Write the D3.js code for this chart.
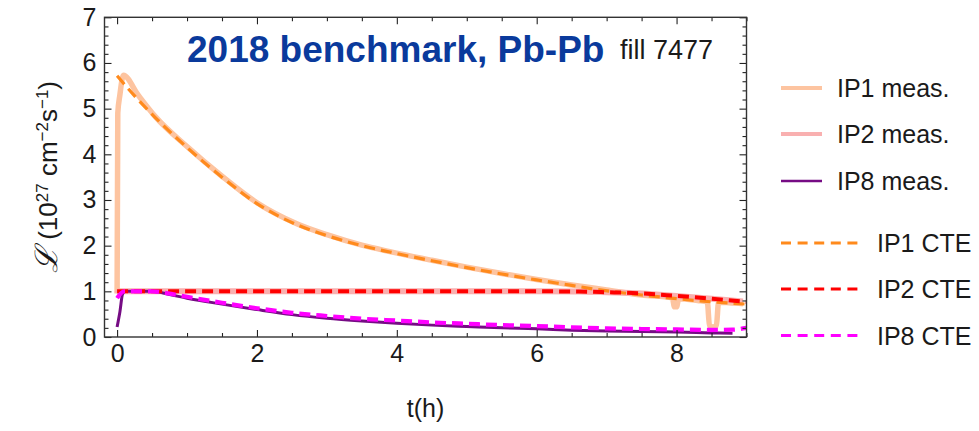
<!DOCTYPE html>
<html>
<head>
<meta charset="utf-8">
<script src="https://cdn.jsdelivr.net/npm/d3@7"></script>
<style>
  html, body { margin: 0; padding: 0; background: #fff; }
  svg { display: block; font-family: "Liberation Sans", Arial, Helvetica, sans-serif; }
</style>
</head>
<body>
<svg id="chart" width="979" height="431"></svg>
<script>
// ---------------- data ----------------
const xTickLabels = [0, 2, 4, 6, 8];
const yTickLabels = [0, 1, 2, 3, 4, 5, 6, 7];

// IP1 CTE (orange dashed)
const ip1CteT = [0, 0.25, 0.55, 1, 1.5, 2, 2.57, 3, 3.5, 3.9, 4.5, 5, 5.5, 6, 6.5, 6.86, 7.5, 8, 8.5, 9];
const ip1CteL = [5.72, 5.28, 4.80, 4.15, 3.50, 2.92, 2.46, 2.22, 2.00, 1.86, 1.67, 1.52, 1.38, 1.25, 1.13, 1.04, 0.92, 0.84, 0.77, 0.72];

// IP2 CTE (red dashed)
const ip2CteT = [0, 1, 2, 3, 4, 5, 6, 6.6, 7, 7.5, 8, 8.5, 9];
const ip2CteL = [1.0, 1.0, 1.0, 1.0, 1.0, 1.0, 1.0, 0.995, 0.98, 0.955, 0.9, 0.84, 0.77];

// IP8 CTE (magenta dashed)
const ip8CteT = [0, 0.1, 0.5, 0.75, 1, 1.5, 2, 2.5, 3, 3.5, 4, 4.5, 5, 5.5, 6, 6.5, 7, 7.5, 8, 8.5, 8.8, 9];
const ip8CteL = [0.85, 1.0, 1.0, 0.95, 0.88, 0.75, 0.63, 0.53, 0.46, 0.40, 0.36, 0.32, 0.29, 0.26, 0.24, 0.21, 0.19, 0.175, 0.165, 0.155, 0.16, 0.2];

// IP1 measured (light orange)
const ip1MeasT = [0, 0.01, 0.04, 0.09, 0.3, 0.55, 1, 1.5, 2, 2.57, 3, 3.5, 3.9, 4.5, 5, 5.5, 6, 6.5, 7, 7.5, 7.94, 7.97, 8.0, 8.03, 8.3, 8.44, 8.47, 8.52, 8.57, 8.6, 8.75, 8.95];
const ip1MeasL = [0.95, 4.9, 5.3, 5.73, 5.30, 4.82, 4.17, 3.52, 2.94, 2.48, 2.24, 2.01, 1.87, 1.68, 1.53, 1.39, 1.26, 1.14, 1.03, 0.92, 0.86, 0.66, 0.66, 0.84, 0.80, 0.77, 0.25, 0.22, 0.25, 0.76, 0.75, 0.73];

// IP2 measured (light pink)
const ip2MeasT = [0, 0.03, 1, 2, 3, 4, 5, 6, 6.6, 7, 7.5, 8, 8.5, 8.95];
const ip2MeasL = [0.95, 1.0, 1.0, 1.0, 1.0, 1.0, 1.0, 1.0, 0.995, 0.98, 0.955, 0.9, 0.84, 0.78];

// IP8 measured (purple)
const ip8MeasT = [0, 0.04, 0.08, 0.12, 0.5, 0.75, 1, 1.5, 2, 2.5, 3, 3.5, 4, 4.5, 5, 5.5, 6, 6.5, 7, 7.5, 8, 8.5, 8.8];
const ip8MeasL = [0.22, 0.55, 0.95, 1.0, 1.0, 0.93, 0.85, 0.72, 0.60, 0.49, 0.41, 0.35, 0.30, 0.26, 0.23, 0.20, 0.18, 0.15, 0.13, 0.12, 0.11, 0.09, 0.08];

const legendNames = ["IP1 meas.", "IP2 meas.", "IP8 meas.", "IP1 CTE", "IP2 CTE", "IP8 CTE"];
const titleText = "2018 benchmark, Pb-Pb";
const fillText = "fill 7477";

// ---------------- drawing ----------------
const svg = d3.select("#chart");
const frame = { left: 104.5, right: 746.5, top: 17.3, bottom: 337 };

const x = d3.scaleLinear().domain([-0.18, 9]).range([frame.left, frame.right]);
const y = d3.scaleLinear().domain([0, 7]).range([frame.bottom, frame.top]);

const zip = (ts, ls) => ts.map((t, i) => [t, ls[i]]);

const series = [
  { name: legendNames[0], pts: zip(ip1MeasT, ip1MeasL), color: "#fdc4a0", width: 5.5, dash: null },
  { name: legendNames[1], pts: zip(ip2MeasT, ip2MeasL), color: "#f9b0b0", width: 6, dash: null },
  { name: legendNames[2], pts: zip(ip8MeasT, ip8MeasL), color: "#760c84", width: 3, dash: null },
  { name: legendNames[3], pts: zip(ip1CteT, ip1CteL), color: "#ff8a1c", width: 3.2, dash: "11,6" },
  { name: legendNames[4], pts: zip(ip2CteT, ip2CteL), color: "#ff0000", width: 4, dash: "11,6" },
  { name: legendNames[5], pts: zip(ip8CteT, ip8CteL), color: "#ff00ff", width: 4.2, dash: "11,6" }
];

svg.append("defs").append("clipPath").attr("id", "plotclip")
  .append("rect")
  .attr("x", frame.left).attr("y", frame.top)
  .attr("width", frame.right - frame.left).attr("height", frame.bottom - frame.top);

const line = d3.line().x(d => x(d[0])).y(d => y(d[1])).curve(d3.curveMonotoneX);

const plot = svg.append("g").attr("clip-path", "url(#plotclip)");
series.forEach(s => {
  plot.append("path")
    .attr("d", line(s.pts))
    .attr("fill", "none")
    .attr("stroke", s.color)
    .attr("stroke-width", s.width)
    .attr("stroke-dasharray", s.dash)
    .attr("stroke-linejoin", "round");
});

// axes with inward ticks (major and minor)
const axisColor = "#222";
const xMinor = d3.range(0, 9.001, 0.5).filter(v => Math.abs(v % 2) > 1e-6);
const yMinor = d3.range(0, 7.001, 0.2).filter(v => Math.abs(v - Math.round(v)) > 1e-6);
const majorLen = 7, minorLen = 4;

function styleAxis(g) {
  g.select(".domain").remove();
  g.selectAll(".tick line").attr("stroke", axisColor).attr("stroke-width", 1.1);
  g.selectAll(".tick text").attr("fill", "#1a1a1a").style("font-size", "25px")
    .style("font-family", "'Liberation Sans', Arial, sans-serif");
}

// bottom
svg.append("g").attr("transform", `translate(0,${frame.bottom})`)
  .call(d3.axisBottom(x).tickValues(xTickLabels).tickFormat(d3.format("d")).tickSizeInner(-majorLen).tickSizeOuter(0).tickPadding(7))
  .call(styleAxis);
svg.append("g").attr("transform", `translate(0,${frame.bottom})`)
  .call(d3.axisBottom(x).tickValues(xMinor).tickFormat("").tickSizeInner(-minorLen).tickSizeOuter(0))
  .call(styleAxis);
// top
svg.append("g").attr("transform", `translate(0,${frame.top})`)
  .call(d3.axisTop(x).tickValues(xTickLabels).tickFormat("").tickSizeInner(-majorLen).tickSizeOuter(0))
  .call(styleAxis);
svg.append("g").attr("transform", `translate(0,${frame.top})`)
  .call(d3.axisTop(x).tickValues(xMinor).tickFormat("").tickSizeInner(-minorLen).tickSizeOuter(0))
  .call(styleAxis);
// left
svg.append("g").attr("transform", `translate(${frame.left},0)`)
  .call(d3.axisLeft(y).tickValues(yTickLabels).tickFormat(d3.format("d")).tickSizeInner(-majorLen).tickSizeOuter(0).tickPadding(8))
  .call(styleAxis);
svg.append("g").attr("transform", `translate(${frame.left},0)`)
  .call(d3.axisLeft(y).tickValues(yMinor).tickFormat("").tickSizeInner(-minorLen).tickSizeOuter(0))
  .call(styleAxis);
// right
svg.append("g").attr("transform", `translate(${frame.right},0)`)
  .call(d3.axisRight(y).tickValues(yTickLabels).tickFormat("").tickSizeInner(-majorLen).tickSizeOuter(0))
  .call(styleAxis);
svg.append("g").attr("transform", `translate(${frame.right},0)`)
  .call(d3.axisRight(y).tickValues(yMinor).tickFormat("").tickSizeInner(-minorLen).tickSizeOuter(0))
  .call(styleAxis);

// frame
svg.append("rect")
  .attr("x", frame.left).attr("y", frame.top)
  .attr("width", frame.right - frame.left).attr("height", frame.bottom - frame.top)
  .attr("fill", "none").attr("stroke", "#333").attr("stroke-width", 1.4);

// title + fill
svg.append("text").attr("x", 187).attr("y", 62)
  .attr("fill", "#0a3a9c").style("font-size", "37px").style("font-weight", "bold")
  .text(titleText);
svg.append("text").attr("x", 620).attr("y", 59)
  .attr("fill", "#1a1a1a").style("font-size", "27px")
  .text(fillText);

// axis titles
svg.append("text").attr("x", (frame.left + frame.right) / 2).attr("y", 417)
  .attr("text-anchor", "middle").attr("fill", "#1a1a1a").style("font-size", "25px")
  .text("t(h)");

const yl = svg.append("text")
  .attr("transform", "translate(57,177) rotate(-90)")
  .attr("text-anchor", "middle").attr("fill", "#1a1a1a").style("font-size", "26px");
yl.append("tspan").style("font-family", "'DejaVu Serif', serif").style("font-style", "italic").style("font-size", "31px").text("ℒ");
yl.append("tspan").text(" (10");
yl.append("tspan").attr("baseline-shift", "super").style("font-size", "17px").text("27");
yl.append("tspan").text(" cm");
yl.append("tspan").attr("baseline-shift", "super").style("font-size", "17px").text("−2");
yl.append("tspan").text("s");
yl.append("tspan").attr("baseline-shift", "super").style("font-size", "17px").text("−1");
yl.append("tspan").text(")");

// legend
const legendYs = [88, 134, 181, 243, 289, 335.5];
const leg = svg.append("g");
series.forEach((s, i) => {
  const isCte = s.dash !== null;
  const x0 = 781, x1 = isCte ? 858 : 822;
  leg.append("line")
    .attr("x1", x0).attr("x2", x1).attr("y1", legendYs[i]).attr("y2", legendYs[i])
    .attr("stroke", s.color)
    .attr("stroke-width", isCte ? 3 : (i === 2 ? 2.4 : 4))
    .attr("stroke-dasharray", isCte ? "10,6.6" : null);
  leg.append("text")
    .attr("x", isCte ? 877 : 837).attr("y", legendYs[i] + 9)
    .attr("fill", "#1a1a1a").style("font-size", "25px")
    .text(s.name);
});
</script>
</body>
</html>
